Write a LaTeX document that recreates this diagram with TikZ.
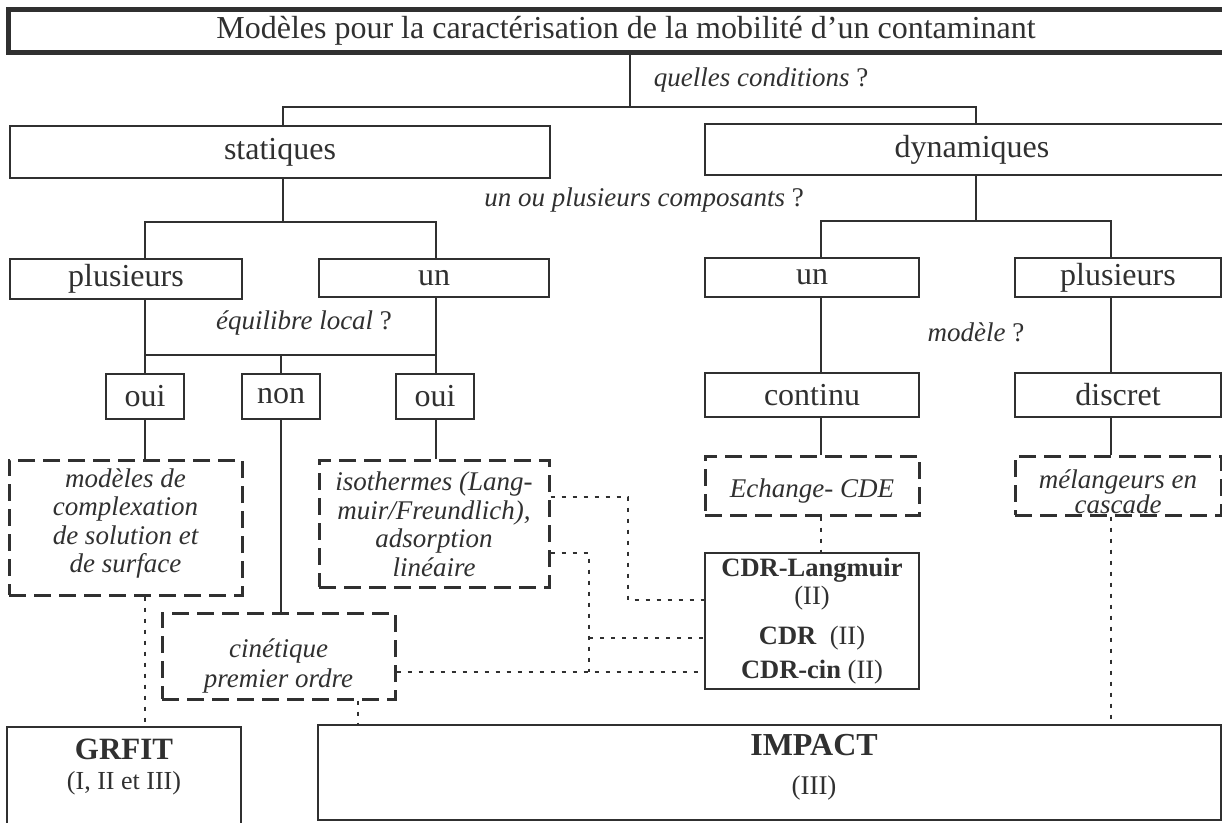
\documentclass[tikz,border=0pt]{standalone}
\usepackage{fontspec}
\setmainfont{Liberation Serif}
\usepackage{tikz}
\definecolor{ink}{HTML}{303030}
\tikzstyle{headbox} = [rectangle, draw=ink, line width=5pt, inner sep=0pt, text=ink, font=\fontsize{32}{36}\selectfont]
\tikzstyle{choice} = [rectangle, draw=ink, line width=1.8pt, inner sep=0pt, text=ink, font=\fontsize{32}{36}\selectfont]
\tikzstyle{model} = [rectangle, draw=ink, line width=3pt, dash pattern=on 17pt off 8pt, inner sep=0pt]
\tikzstyle{modeltext} = [inner sep=0pt, align=center, text=ink, font=\itshape\fontsize{27}{28.5}\selectfont]
\tikzstyle{code} = [rectangle, draw=ink, line width=2.2pt, inner sep=0pt, align=center, text=ink]
\tikzstyle{ask} = [inner sep=0pt, text=ink, font=\fontsize{27}{30}\selectfont]
\tikzstyle{wire} = [draw=ink, line width=1.8pt]
\tikzstyle{link} = [draw=ink, line width=2.8pt, dash pattern=on 4pt off 7pt]

\begin{document}
\begin{tikzpicture}[x=1pt, y=-1pt]
        \useasboundingbox (0,0) rectangle (1222,822);
        % title and first question
        \node[headbox, minimum width=1236pt, minimum height=43pt] (title) at (626,30.5) {Modèles pour la caractérisation de la mobilité d’un contaminant};
        \node[ask] (qcond) at (761,80) {\itshape quelles conditions\/ \upshape ?};
        \node[choice, minimum width=540pt, minimum height=52pt] (statiques) at (280,152) {statiques};
        \node[choice, minimum width=534pt, minimum height=51pt] (dynamiques) at (972,149.5) {dynamiques};
        \node[ask] (qcomp) at (644,200) {\itshape un ou plusieurs composants\/ \upshape ?};
        
        % number of components
        \node[choice, minimum width=232pt, minimum height=40pt] (plusL) at (126,279) {plusieurs};
        \node[choice, minimum width=230pt, minimum height=38pt] (unL) at (434,278) {un};
        \node[choice, minimum width=214pt, minimum height=39pt] (unR) at (812,277.5) {un};
        \node[choice, minimum width=206pt, minimum height=39pt] (plusR) at (1118,277.5) {plusieurs};
        \node[ask] (qequi) at (304,323) {\itshape équilibre local\/ \upshape ?};
        \node[ask] (qmod) at (976,332) {\itshape modèle\/ \upshape ?};
        
        \node[choice, minimum width=78pt, minimum height=45pt] (ouiA) at (145,396.5) {oui};
        \node[choice, minimum width=78pt, minimum height=45pt] (non) at (281,396.5) {non};
        \node[choice, minimum width=78pt, minimum height=45pt] (ouiB) at (435,396.5) {oui};
        \node[choice, minimum width=214pt, minimum height=44pt] (continu) at (812,395) {continu};
        \node[choice, minimum width=206pt, minimum height=44pt] (discret) at (1118,395) {discret};
        
        % model families
        \node[model, minimum width=233pt, minimum height=135pt] (modeles) at (125.5,527.5) {};
        \node[model, minimum width=230pt, minimum height=127pt] (isoth) at (434,523.5) {};
        \node[model, minimum width=214pt, minimum height=59pt] (echange) at (812,485.5) {};
        \node[model, minimum width=206pt, minimum height=59pt] (melang) at (1118,485.5) {};
        \node[model, minimum width=233pt, minimum height=86pt] (cinet) at (278.5,656) {};
        \node[modeltext] (modelestxt) at (125.5,523.5) {modèles de\\complexation\\de solution et\\de surface};
        \node[modeltext] (isothtxt) at (434,524.5) {isothermes (Lang-\\muir/Freundlich),\\adsorption\\linéaire};
        \node[modeltext] (echangetxt) at (812,490.5) {Echange- CDE};
        \node[modeltext, font=\itshape\fontsize{27}{21}\selectfont] (melangtxt) at (1118,491.5) {mélangeurs en\\cascade};
        \node[modeltext, font=\itshape\fontsize{27}{30}\selectfont] (cinettxt) at (278.5,666) {cinétique\\premier ordre};
        
        % codes
        \node[code, minimum width=214pt, minimum height=136pt, font=\fontsize{26.5}{28}\selectfont] (cdr) at (812,621) {\textbf{CDR-Langmuir}\\(II)\\[12pt]\textbf{CDR}\ \ (II)\\[6pt]\textbf{CDR-cin} (II)};
        \node[code, minimum width=234pt, minimum height=99pt] (grfit) at (124,776.5) {};
        \node[code, minimum width=903pt, minimum height=95pt] (impact) at (769.5,772.5) {};
        \node[align=center, inner sep=0pt, text=ink, font=\fontsize{26}{30}\selectfont] (grfittxt) at (124,767) {{\bfseries\fontsize{31}{30}\selectfont GRFIT}\\(I, II et III)};
        \node[align=center, inner sep=0pt, text=ink, font=\fontsize{27}{39}\selectfont] (impacttxt) at (814,767) {{\bfseries\fontsize{32}{39}\selectfont IMPACT}\\(III)};
        
        \coordinate (t0) at (630,107);
        \coordinate (s0) at (283,222);
        \coordinate (s1) at (145,222);
        \coordinate (s2) at (436,222);
        \coordinate (e0) at (281,355);
        \coordinate (d0) at (976,221);
        \coordinate (d1) at (821,221);
        \coordinate (d2) at (1111,221);
        \coordinate (k3) at (358,0);
        \coordinate (j1) at (628,497);
        \coordinate (r1) at (628,600);
        \coordinate (j2) at (589,553);
        \coordinate (r2) at (589,638);
        \coordinate (r3) at (589,672);
        
        % tree
        \draw[wire] (title.south -| t0) -- (t0);
        \draw[wire] (statiques.north -| s0) |- (t0) -| (dynamiques.north -| d0);
        \draw[wire] (statiques.south -| s0) -- (s0);
        \draw[wire] (plusL.north -| s1) |- (s0) -| (unL.north -| s2);
        \draw[wire] (plusL.south -| s1) -- (ouiA.north -| s1);
        \draw[wire] (unL.south -| s2) -- (ouiB.north -| s2);
        \draw[wire] (s1 |- e0) -- (s2 |- e0);
        \draw[wire] (e0) -- (non.north);
        \draw[wire] (ouiA.south -| s1) -- (modeles.north -| s1);
        \draw[wire] (ouiB.south -| s2) -- (isoth.north -| s2);
        \draw[wire] (non.south) -- (non.south |- cinet.north);
        \draw[wire] (dynamiques.south -| d0) -- (d0);
        \draw[wire] (unR.north -| d1) |- (d0) -| (plusR.north -| d2);
        \draw[wire] (unR.south -| d1) -- (continu.north -| d1);
        \draw[wire] (plusR.south -| d2) -- (discret.north -| d2);
        \draw[wire] (continu.south -| d1) -- (echange.north -| d1);
        \draw[wire] (discret.south -| d2) -- (melang.north -| d2);
        
        % dotted links to the codes
        \draw[link] (echange.south -| d1) -- (cdr.north -| d1);
        \draw[link] (melang.south -| d2) -- (impact.north -| d2);
        \draw[link] (modeles.south -| s1) -- (grfit.north -| s1);
        \draw[link] (cinet.south -| k3) -- (impact.north -| k3);
        \draw[link] (isoth.east |- j1) -| (r1) -- (cdr.west |- r1);
        \draw[link] (isoth.east |- j2) -| (r3);
        \draw[link] (r2) -- (cdr.west |- r2);
        \draw[link] (cinet.east |- r3) -- (cdr.west |- r3);
    \end{tikzpicture}
\end{document}
